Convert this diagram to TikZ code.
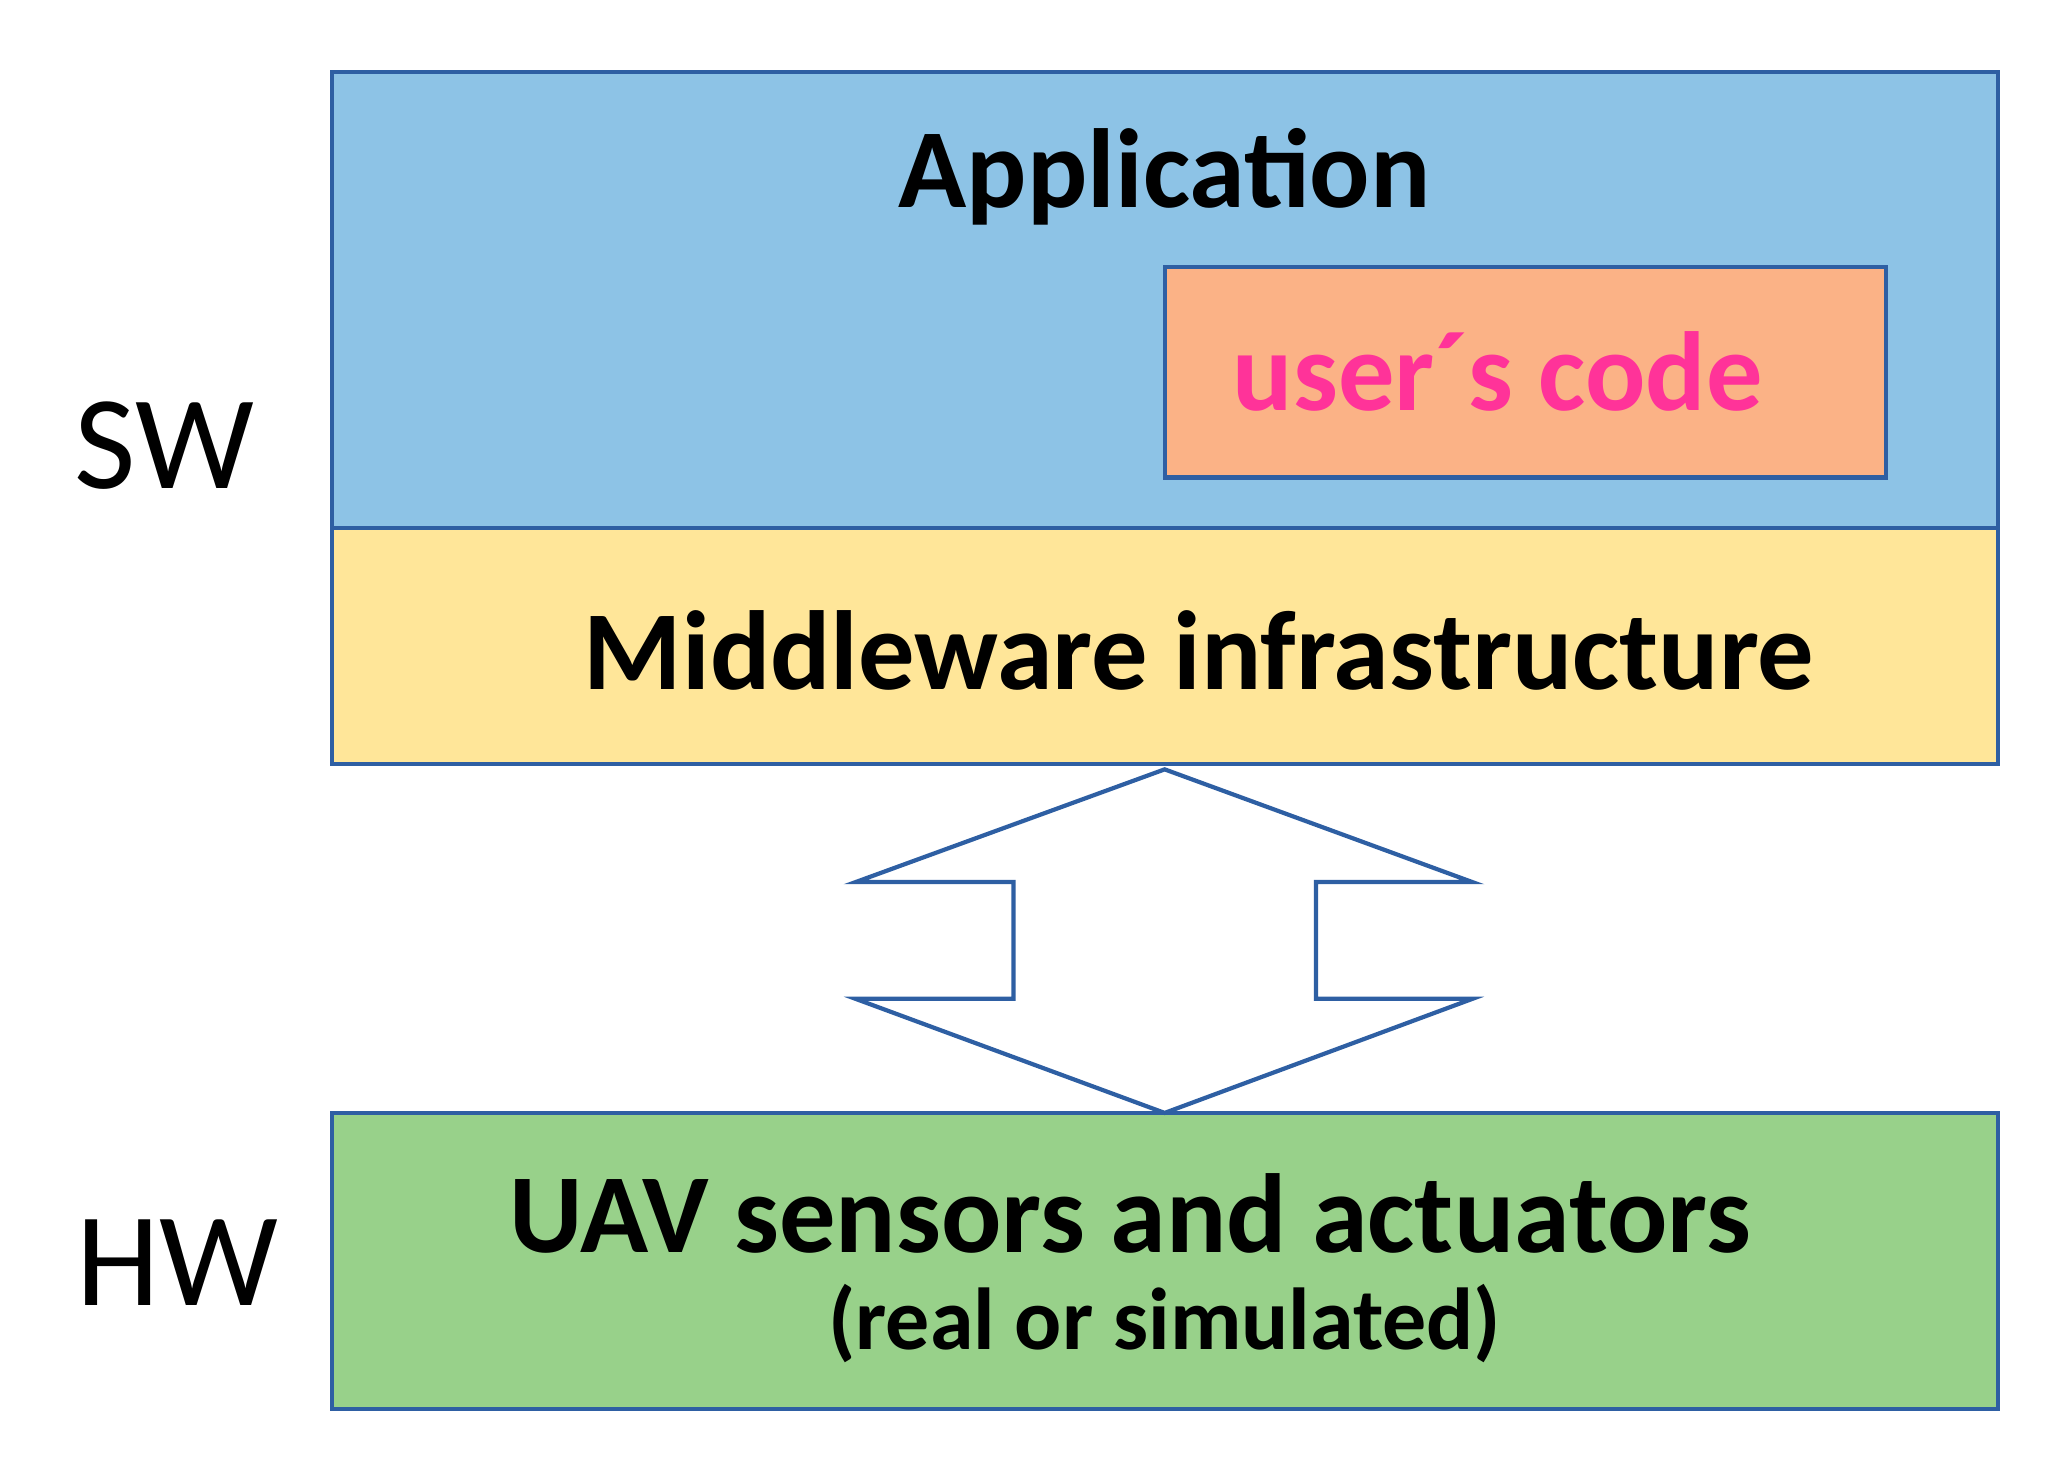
\documentclass[tikz,border=0pt]{standalone}
\usepackage{fontspec}
\setmainfont{Carlito}
\definecolor{bord}{HTML}{2E5FA3}
\definecolor{appb}{HTML}{8DC3E6}
\definecolor{midy}{HTML}{FFE699}
\definecolor{hwg}{HTML}{98D18A}
\definecolor{usr}{HTML}{FBB286}
\definecolor{pink}{HTML}{FF3399}
\begin{document}
\begin{tikzpicture}[x=0.013265cm,y=-0.013265cm,
  box/.style={draw=bord,line width=1.2pt},
  lbl/.style={font=\fontsize{32}{38}\selectfont\bfseries},
  side/.style={font=\fontsize{38}{44}\selectfont}]
\useasboundingbox (0,0) rectangle (1556,1099);
\filldraw[box,fill=appb] (250,54) rectangle (1506,398);
\node[box,fill=usr,minimum width=544*0.013265cm,minimum height=159*0.013265cm] (usr) at (1150,280.5) {};
\node[lbl,text=pink,anchor=west] (usrt) at (920,280) {user´s code};
\node[lbl] (app) at (878,133) {Application};
\filldraw[box,fill=midy] (250,398) rectangle (1506,576);
\node[lbl] (mid) at (904,490) {Middleware infrastructure};
\filldraw[box,fill=hwg] (250,839) rectangle (1506,1062);
\node[lbl] (uav) at (852,915) {UAV sensors and actuators};
\node[font=\fontsize{25}{30}\selectfont\bfseries] (real) at (878,998) {(real or simulated)};
\draw[box,fill=white,line join=miter] (878,580) -- (1110,665) -- (992,665) -- (992,753) -- (1110,753) -- (878,839) -- (645,753) -- (764,753) -- (764,665) -- (645,665) -- cycle;
\node[side] (sw) at (124,336) {SW};
\node[side] (hw) at (134,952) {HW};
\end{tikzpicture}
\end{document}
